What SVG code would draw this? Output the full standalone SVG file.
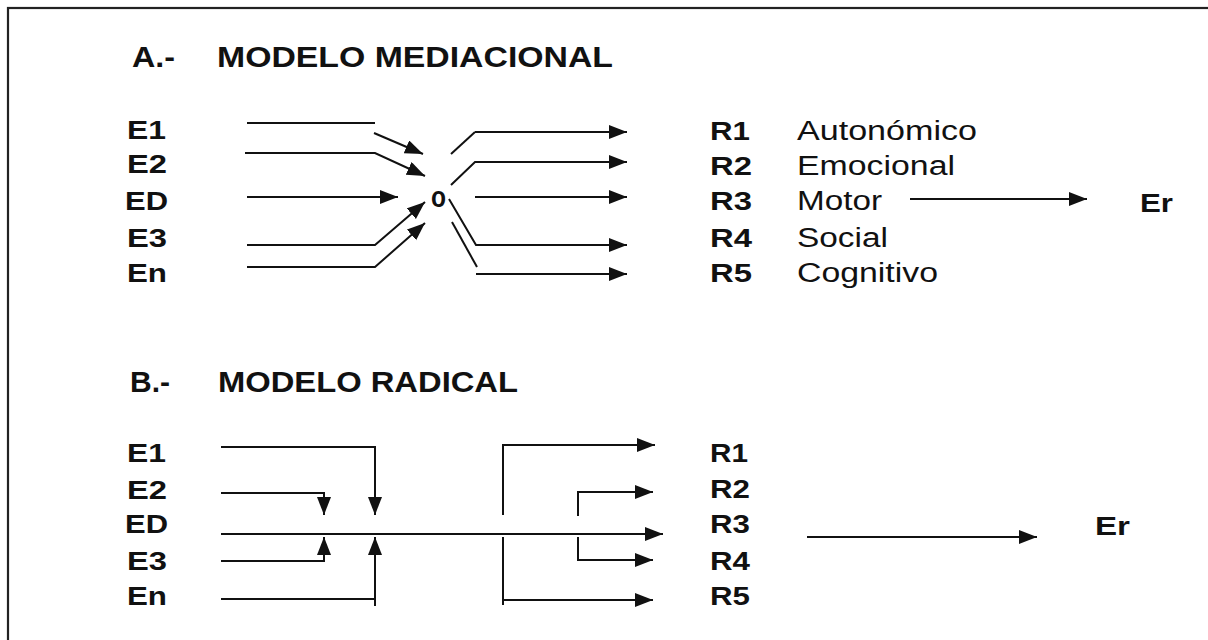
<svg xmlns="http://www.w3.org/2000/svg" width="1208" height="640" viewBox="0 0 1208 640">
<defs>
<marker id="ah" markerUnits="userSpaceOnUse" markerWidth="20" markerHeight="16" refX="18" refY="7" orient="auto">
<path d="M0,0 L18,7 L0,14 z" fill="#111"/>
</marker>
<style>
.t{font-family:"Liberation Sans",Arial,sans-serif;font-weight:bold;font-size:29px;fill:#111}
.l{font-family:"Liberation Sans",Arial,sans-serif;font-weight:bold;font-size:25px;fill:#111}
.d{font-family:"Liberation Sans",Arial,sans-serif;font-size:27px;fill:#111}
.o{font-family:"Liberation Sans",Arial,sans-serif;font-weight:bold;font-size:29px;fill:#111}
.c{fill:none;stroke:#111;stroke-width:2}
.a{fill:none;stroke:#111;stroke-width:2;marker-end:url(#ah)}
</style>
</defs>
<rect width="1208" height="640" fill="#fff"/>
<rect x="8" y="8" width="1230" height="670" fill="none" stroke="#222" stroke-width="2.2"/>

<g id="titleA">
<text class="t" x="132" y="67" textLength="43" lengthAdjust="spacingAndGlyphs">A.-</text>
<text class="t" x="217" y="67" textLength="396" lengthAdjust="spacingAndGlyphs">MODELO MEDIACIONAL</text>
</g>
<g id="A-E1"><text class="l" x="127" y="139" textLength="39" lengthAdjust="spacingAndGlyphs">E1</text></g>
<g id="A-E2"><text class="l" x="127" y="173" textLength="40" lengthAdjust="spacingAndGlyphs">E2</text></g>
<g id="A-ED"><text class="l" x="125" y="210" textLength="43" lengthAdjust="spacingAndGlyphs">ED</text></g>
<g id="A-E3"><text class="l" x="127" y="247" textLength="40" lengthAdjust="spacingAndGlyphs">E3</text></g>
<g id="A-En"><text class="l" x="127" y="282" textLength="40" lengthAdjust="spacingAndGlyphs">En</text></g>
<g id="A-O"><text class="o" x="431" y="207" textLength="15" lengthAdjust="spacingAndGlyphs">o</text></g>
<g id="A-R1"><text class="l" x="710" y="140" textLength="40" lengthAdjust="spacingAndGlyphs">R1</text><text class="d" x="797" y="140" textLength="180" lengthAdjust="spacingAndGlyphs">Autonómico</text></g>
<g id="A-R2"><text class="l" x="710" y="175" textLength="42" lengthAdjust="spacingAndGlyphs">R2</text><text class="d" x="797" y="175" textLength="158" lengthAdjust="spacingAndGlyphs">Emocional</text></g>
<g id="A-R3"><text class="l" x="710" y="210" textLength="42" lengthAdjust="spacingAndGlyphs">R3</text><text class="d" x="797" y="210" textLength="85" lengthAdjust="spacingAndGlyphs">Motor</text></g>
<g id="A-R4"><text class="l" x="710" y="247" textLength="42" lengthAdjust="spacingAndGlyphs">R4</text><text class="d" x="797" y="247" textLength="91" lengthAdjust="spacingAndGlyphs">Social</text></g>
<g id="A-R5"><text class="l" x="710" y="282" textLength="42" lengthAdjust="spacingAndGlyphs">R5</text><text class="d" x="797" y="282" textLength="141" lengthAdjust="spacingAndGlyphs">Cognitivo</text></g>
<g id="A-Er"><text class="l" x="1140" y="212" textLength="33" lengthAdjust="spacingAndGlyphs">Er</text></g>

<g id="titleB">
<text class="t" x="130" y="392" textLength="40" lengthAdjust="spacingAndGlyphs">B.-</text>
<text class="t" x="218" y="392" textLength="300" lengthAdjust="spacingAndGlyphs">MODELO RADICAL</text>
</g>
<g id="B-E1"><text class="l" x="127" y="462" textLength="39" lengthAdjust="spacingAndGlyphs">E1</text></g>
<g id="B-E2"><text class="l" x="127" y="499" textLength="40" lengthAdjust="spacingAndGlyphs">E2</text></g>
<g id="B-ED"><text class="l" x="125" y="533" textLength="43" lengthAdjust="spacingAndGlyphs">ED</text></g>
<g id="B-E3"><text class="l" x="127" y="570" textLength="40" lengthAdjust="spacingAndGlyphs">E3</text></g>
<g id="B-En"><text class="l" x="127" y="605" textLength="40" lengthAdjust="spacingAndGlyphs">En</text></g>
<g id="B-R1"><text class="l" x="710" y="462" textLength="38" lengthAdjust="spacingAndGlyphs">R1</text></g>
<g id="B-R2"><text class="l" x="710" y="498" textLength="40" lengthAdjust="spacingAndGlyphs">R2</text></g>
<g id="B-R3"><text class="l" x="710" y="533" textLength="40" lengthAdjust="spacingAndGlyphs">R3</text></g>
<g id="B-R4"><text class="l" x="710" y="570" textLength="40" lengthAdjust="spacingAndGlyphs">R4</text></g>
<g id="B-R5"><text class="l" x="710" y="605" textLength="40" lengthAdjust="spacingAndGlyphs">R5</text></g>
<g id="B-Er"><text class="l" x="1095" y="535" textLength="35" lengthAdjust="spacingAndGlyphs">Er</text></g>

<g id="connectors">
<path class="c" d="M247,123 H375"/>
<path class="a" d="M374,133 L423,154"/>
<path class="a" d="M245,153 H375 L425,176"/>
<path class="a" d="M247,197 H398"/>
<path class="a" d="M247,245 H375 L425,202"/>
<path class="a" d="M247,267 H375 L425,223"/>
<path class="c" d="M451,154 L475,132"/>
<path class="a" d="M475,132 H627"/>
<path class="a" d="M451,185 L475,162 H627"/>
<path class="a" d="M475,197 H627"/>
<path class="a" d="M449,199 L476,245 H627"/>
<path class="c" d="M452,222 L477,267"/>
<path class="a" d="M476,274 H627"/>
<path class="a" d="M910,199 H1087"/>
<path class="a" d="M221,447 H375 V515"/>
<path class="a" d="M221,493 H324 V515"/>
<path class="a" d="M221,534 H663"/>
<path class="a" d="M221,561 H324 V537"/>
<path class="c" d="M221,599 H375"/>
<path class="a" d="M375,606 V537"/>
<path class="a" d="M503,515 V445 H655"/>
<path class="a" d="M578,516 V492 H653"/>
<path class="a" d="M578,537 V560 H653"/>
<path class="c" d="M503,537 V605"/>
<path class="a" d="M503,600 H653"/>
<path class="a" d="M807,537 H1037"/>
</g>
</svg>
